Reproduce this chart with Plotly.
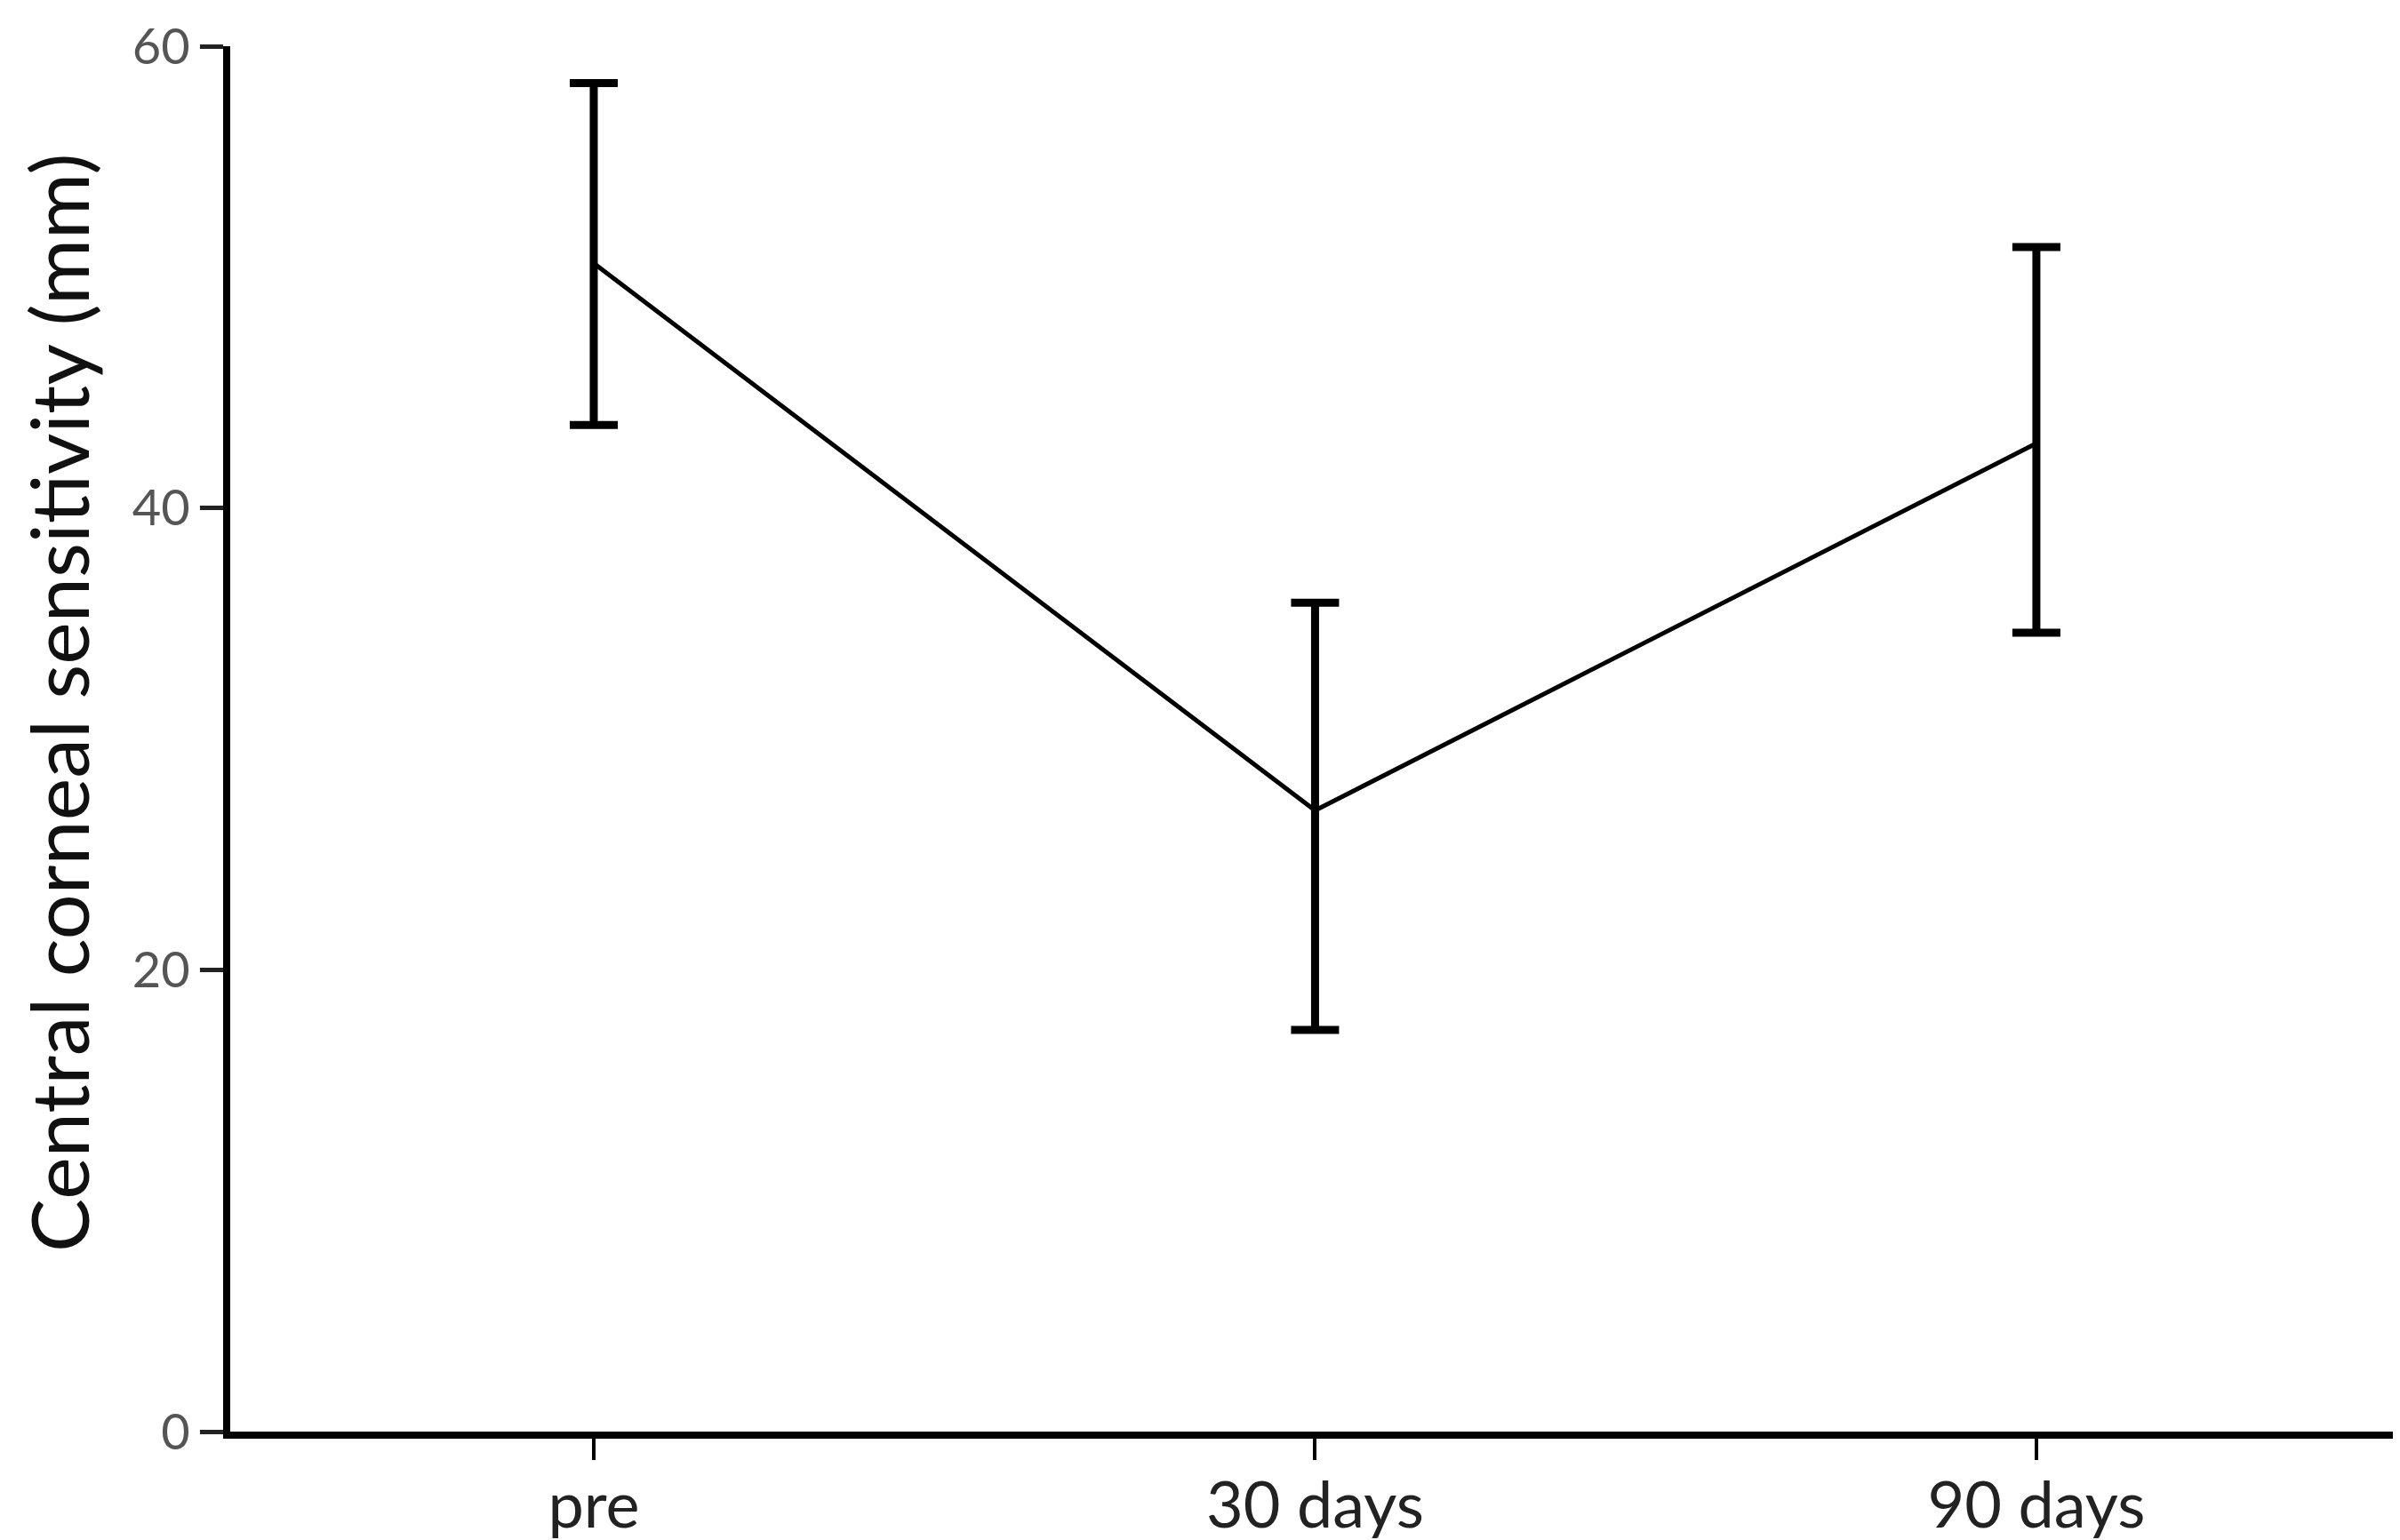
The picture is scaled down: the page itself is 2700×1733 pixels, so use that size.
import plotly.graph_objects as go

categories = ["pre", "30 days", "90 days"]
means = [50.6, 26.9, 42.8]
err_plus = [7.8, 9.0, 8.5]
err_minus = [7.0, 9.5, 8.2]
y_ticks = [0, 20, 40, 60]

W, H = 2700, 1733
ml, mt, mb, mr = 251, 44, 130, 0
pw = W - ml - mr
ph = H - mt - mb

fig = go.Figure()
fig.add_trace(go.Scatter(
    x=categories, y=means, mode="lines",
    line=dict(color="#000000", width=5),
    error_y=dict(type="data", symmetric=False, array=err_plus, arrayminus=err_minus,
                 color="#000000", thickness=9, width=27),
    showlegend=False,
))

fig.update_layout(
    width=W, height=H,
    margin=dict(l=ml, r=mr, t=mt, b=mb, pad=0, autoexpand=False),
    plot_bgcolor="white", paper_bgcolor="white",
    font=dict(family="Lato, 'Open Sans', sans-serif", color="#111111"),
    xaxis=dict(
        type="category", range=[-0.504, 2.514], automargin=False,
        showline=True, linecolor="#000000", linewidth=8,
        ticks="outside", ticklen=24, tickwidth=4, tickcolor="#000000",
        showgrid=False, zeroline=False, ticklabelstandoff=-10,
        tickfont=dict(size=72, color="#222222"),
    ),
    yaxis=dict(
        range=[0, 60], tickvals=y_ticks, ticktext=[str(v) for v in y_ticks],
        automargin=False,
        showline=True, linecolor="#000000", linewidth=8,
        ticks="outside", ticklen=26, tickwidth=5, tickcolor="#222222",
        showgrid=False, zeroline=False,
        tickfont=dict(size=56, color="#555555"),
    ),
    annotations=[dict(
        text="Central corneal sensitivity (mm)",
        xref="paper", yref="paper",
        x=(57 - ml) / pw, y=(H - mb - 783) / ph,
        xanchor="center", yanchor="middle",
        textangle=-90, showarrow=False,
        font=dict(size=90, color="#111111", family="Lato, 'Open Sans', sans-serif"),
    )],
)

fig.write_html("out.html")
